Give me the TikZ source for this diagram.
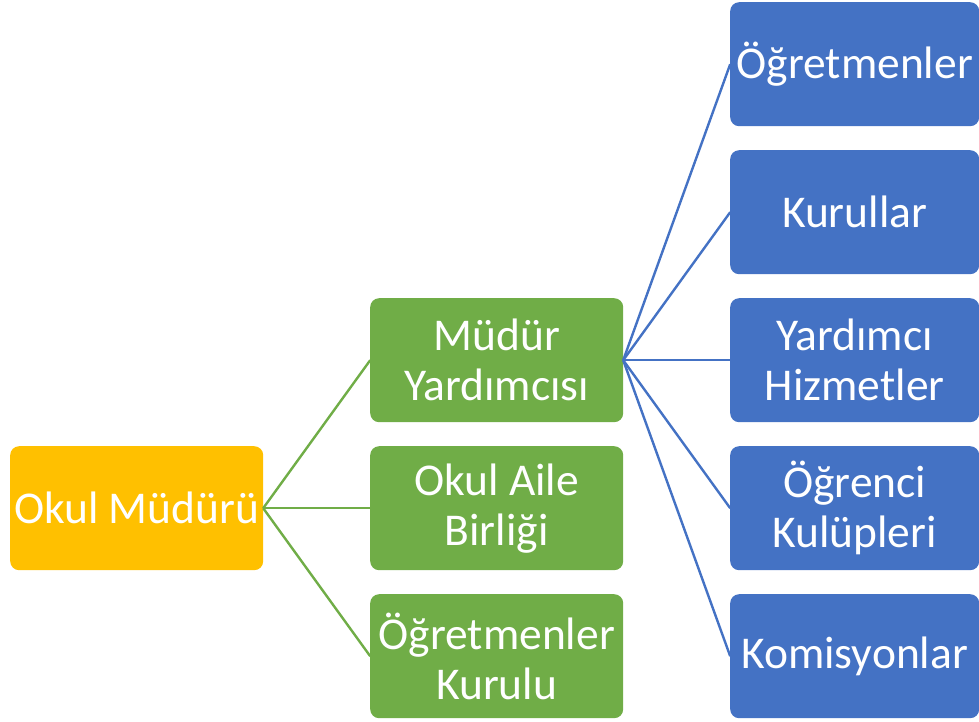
\documentclass[tikz,border=0pt]{standalone}
\usepackage{fontspec}
\setmainfont{Carlito}
\usepackage{xcolor}
\usepackage{tikz}
\usetikzlibrary{matrix}
\definecolor{okulorange}{HTML}{FFC000}
\definecolor{okulgreen}{HTML}{70AD47}
\definecolor{okulblue}{HTML}{4472C4}
\tikzstyle{box} =[rounded corners=9pt,text=white,align=center,minimum height=124pt,inner sep=1pt,outer sep=0pt,font=\fontsize{45.5}{50}\selectfont]
\tikzstyle{head}=[box,fill=okulorange,minimum width=253pt]
\tikzstyle{mid} =[box,fill=okulgreen,minimum width=253pt]
\tikzstyle{leaf}=[box,fill=okulblue,minimum width=249pt]
\tikzstyle{grn} =[line width=2.4pt,draw=okulgreen]
\tikzstyle{blu} =[line width=2.4pt,draw=okulblue]

\begin{document}
\begin{tikzpicture}
	\useasboundingbox (0,0) rectangle (979pt,-722pt);
	\matrix (m) [column sep=107pt,row sep=24pt,inner sep=0pt,anchor=north west] at (10pt,-2pt) {
	  & & \node[leaf] (ogrt) {Öğretmenler}; \\
	  & & \node[leaf] (kurl) {Kurullar}; \\
	  & \node[mid] (yard) {Müdür\\Yardımcısı}; & \node[leaf] (hizm) {Yardımcı\\Hizmetler}; \\
	  \node[head] (mudur) {Okul Müdürü}; & \node[mid] (aile) {Okul Aile\\Birliği}; & \node[leaf] (kulup) {Öğrenci\\Kulüpleri}; \\
	  & \node[mid] (kurul) {Öğretmenler\\Kurulu}; & \node[leaf] (komis) {Komisyonlar}; \\
	};
	\draw[grn] (mudur.east) -- (yard.west);
	\draw[grn] (mudur.east) -- (aile.west);
	\draw[grn] (mudur.east) -- (kurul.west);
	\draw[blu] (yard.east) -- (ogrt.west);
	\draw[blu] (yard.east) -- (kurl.west);
	\draw[blu] (yard.east) -- (hizm.west);
	\draw[blu] (yard.east) -- (kulup.west);
	\draw[blu] (yard.east) -- (komis.west);
\end{tikzpicture}
\end{document}
